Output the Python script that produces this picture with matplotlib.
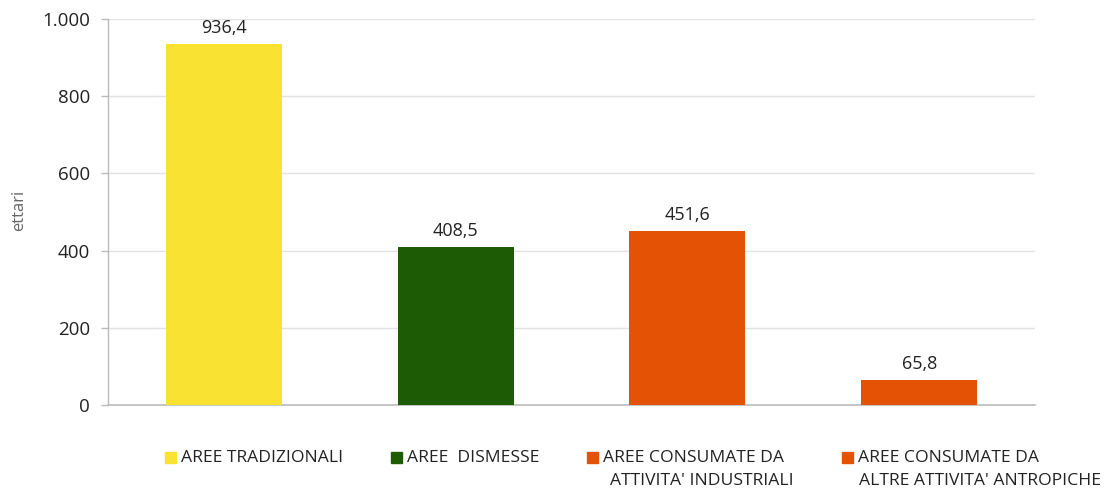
import matplotlib
matplotlib.use("Agg")
import matplotlib.pyplot as plt
from matplotlib.patches import Rectangle
from matplotlib.ticker import FuncFormatter

categories = [
    "AREE TRADIZIONALI",
    "AREE  DISMESSE",
    "AREE CONSUMATE DA\nATTIVITA' INDUSTRIALI",
    "AREE CONSUMATE DA\nALTRE ATTIVITA' ANTROPICHE",
]
values = [936.4, 408.5, 451.6, 65.8]
colors = ["#F9E231", "#1E5B05", "#E35205", "#E35205"]
y_ticks = [0, 200, 400, 600, 800, 1000]

plt.rcParams["font.family"] = ["Open Sans", "DejaVu Sans"]

W, H = 1112, 488
fig = plt.figure(figsize=(W / 100, H / 100), dpi=100)
ax = fig.add_axes([0.0971, 0.170, 0.8337, 0.791])

x = list(range(len(values)))
ax.bar(x, values, width=0.5, color=colors, zorder=3)

for xi, v in zip(x, values):
    ax.annotate(f"{v:.1f}".replace(".", ","), (xi, v), xytext=(0, 5),
                textcoords="offset points", ha="center", va="bottom",
                fontsize=13, color="#222222")

ax.set_xlim(-0.5, len(values) - 0.5)
ax.set_ylim(0, 1000)
ax.set_yticks(y_ticks)
ax.yaxis.set_major_formatter(FuncFormatter(lambda v, p: f"{int(v):,}".replace(",", ".")))
ax.tick_params(axis="y", labelsize=13.5, labelcolor="#222222", color="#BBBBBB",
               length=5, width=1, pad=8)
ax.set_xticks([])
ax.grid(axis="y", color="#E3E3E3", linewidth=1, zorder=0)

for side in ("top", "right"):
    ax.spines[side].set_visible(False)
ax.spines["left"].set_color("#BBBBBB")
ax.spines["bottom"].set_color("#BBBBBB")
ax.spines["left"].set_linewidth(1)
ax.spines["bottom"].set_linewidth(1.2)

fig.text(19 / W, 1 - 210 / H, "ettari", rotation=90, ha="center", va="center",
         fontsize=12, color="#666666")

# Legend drawn by hand so that each square sits beside the first text line
legend_x = [165, 391, 587, 842]
second_indent = [0, 0, 7, 1]
legend_y = 458
for lx, indent, label, c in zip(legend_x, second_indent, categories, colors):
    fig.patches.append(Rectangle((lx / W, 1 - (legend_y + 5) / H), 11 / W, 11 / H,
                                 transform=fig.transFigure, color=c, figure=fig))
    lines = label.split("\n")
    fig.text((lx + 16) / W, 1 - legend_y / H, lines[0], ha="left", va="center",
             fontsize=12.6, color="#222222")
    if len(lines) > 1:
        fig.text((lx + 16 + indent) / W, 1 - (legend_y + 23) / H, lines[1], ha="left",
                 va="center", fontsize=12.6, color="#222222")

fig.savefig("out.png", dpi=100, facecolor="white")
